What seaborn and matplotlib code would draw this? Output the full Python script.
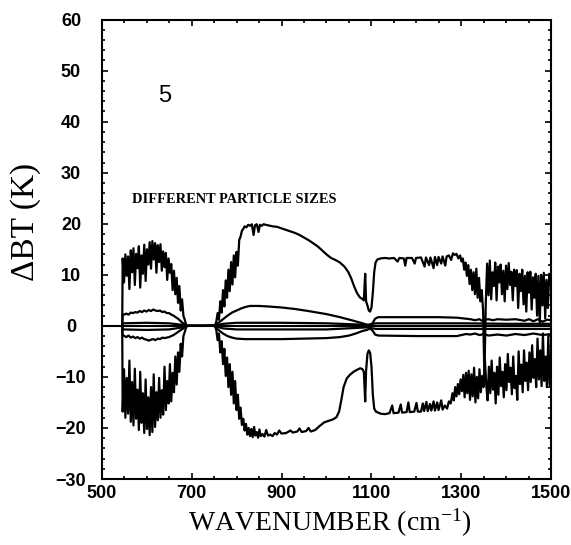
import numpy as np
import pandas as pd
import matplotlib
matplotlib.use("Agg")
import matplotlib.pyplot as plt
import seaborn as sns
from matplotlib.ticker import MultipleLocator

# ---------------------------------------------------------------------------
# Brightness-temperature differences (K) for several particle sizes
# ---------------------------------------------------------------------------

# largest positive response
wn_pos_large = [546, 547, 550, 553, 556, 559, 562, 565, 568, 571, 574, 577, 580, 583, 586, 589,
                592, 595, 598, 601, 604, 607, 610, 613, 616, 619, 622, 625, 628, 631, 634, 637,
                640, 643, 646, 649, 652, 655, 658, 661, 664, 667, 670, 673, 676, 679, 682, 685,
                688, 691, 720, 752, 755, 758, 761, 764, 767, 770, 773, 776, 779, 782, 785, 788,
                791, 794, 797, 800, 803, 806, 809, 812, 815, 818, 822, 826, 830, 834, 838, 841,
                845, 849, 852, 856, 860, 870, 880, 890, 900, 910, 920, 930, 940, 950, 960, 970,
                980, 990, 1000, 1010, 1020, 1030, 1040, 1048, 1055, 1062, 1068, 1074, 1079, 1083,
                1086, 1088, 1091, 1094, 1097, 1100, 1103, 1106, 1109, 1113, 1120, 1130, 1140,
                1150, 1158, 1162, 1172, 1175, 1178, 1190, 1196, 1199, 1210, 1218, 1221, 1228,
                1231, 1238, 1241, 1246, 1249, 1255, 1258, 1264, 1267, 1272, 1277, 1281, 1285,
                1289, 1293, 1297, 1300, 1303, 1306, 1309, 1312, 1315, 1318, 1321, 1324, 1327,
                1330, 1333, 1336, 1339, 1342, 1345, 1348, 1351, 1354, 1357, 1360, 1363, 1366,
                1369, 1372, 1375, 1378, 1381, 1384, 1387, 1390, 1393, 1396, 1399, 1402, 1405,
                1408, 1411, 1414, 1417, 1420, 1423, 1426, 1429, 1432, 1435, 1438, 1441, 1444,
                1447, 1450, 1453, 1456, 1459, 1462, 1465, 1468, 1471, 1474, 1477, 1480, 1483,
                1486, 1489, 1492, 1495, 1498, 1500]
dbt_pos_large = [0, 13.2, 8.5, 14.0, 9.8, 13.6, 7.2, 14.8, 10.5, 15.2, 8.0, 14.1, 11.3, 15.6, 7.5, 13.8,
                 10.2, 15.9, 8.8, 15.0, 12.0, 16.4, 11.2, 16.6, 13.0, 16.2, 10.4, 15.8, 12.5, 16.0, 10.8, 14.6,
                 11.5, 14.3, 9.0, 13.2, 10.4, 12.1, 7.0, 10.8, 6.2, 9.4, 4.5, 7.8, 3.0, 5.2, 2.0, 1.2,
                 0.2, 0, 0, 0.1, 0.8, 2.5, 1.2, 4.8, 2.6, 7.0, 3.8, 8.9, 5.5, 11.0, 6.8, 12.5,
                 8.1, 13.8, 9.5, 14.5, 11.8, 16.8, 17.5, 18.6, 19.0, 19.5, 19.3, 19.8, 19.6, 19.9, 17.8, 19.7,
                 19.9, 18.4, 19.8, 19.6, 19.9, 19.7, 19.5, 19.4, 19.1, 18.8, 18.5, 18.2, 17.8, 17.3, 16.8, 16.2,
                 15.6, 14.8, 14.0, 13.3, 12.9, 12.4, 11.6, 10.6, 9.3, 7.6, 6.4, 5.6, 5.3, 5.0,
                 10.2, 4.8, 4.0, 3.0, 2.8, 3.6, 6.5, 10.5, 12.4, 13.0, 13.2, 13.3, 13.2,
                 13.3, 12.6, 13.3, 13.2, 11.8, 13.3, 13.3, 12.2, 13.3, 13.4, 11.6, 13.4, 11.9,
                 13.4, 11.3, 13.5, 11.9, 13.5, 12.2, 13.6, 11.8, 13.6, 13.8, 12.9, 14.2, 13.9,
                 14.1, 13.2, 13.8, 12.6, 13.2, 11.0, 12.4, 9.8, 11.9, 8.2, 11.0, 7.0, 10.5,
                 6.2, 11.2, 5.5, 9.4, 4.8, 7.0, 3.0, -10.0, 4.5, 12.2, 6.0, 12.8, 5.2,
                 10.5, 7.8, 12.4, 5.0, 11.6, 8.5, 12.0, 6.2, 10.8, 4.8, 11.8, 7.2, 12.3,
                 8.0, 10.6, 5.0, 11.0, 7.8, 10.9, 3.5, 10.2, 6.8, 11.0, 4.2, 9.8, 2.8,
                 10.5, 6.5, 10.6, 3.2, 9.5, 5.5, 10.2, 2.0, 9.8, 0.5, 10.0, 4.0, 10.4,
                 1.5, 9.0, 3.5, 10.2, 9.5, 10.0]

# largest negative response
wn_neg_large = [546, 547, 550, 553, 556, 559, 562, 565, 568, 571, 574, 577, 580, 583, 586, 589,
                592, 595, 598, 601, 604, 607, 610, 613, 616, 619, 622, 625, 628, 631, 634, 637,
                640, 643, 646, 649, 652, 655, 658, 661, 664, 667, 670, 673, 676, 679, 682, 685,
                688, 691, 720, 752, 755, 758, 761, 764, 767, 770, 773, 776, 779, 782, 785, 788,
                791, 794, 797, 800, 803, 806, 809, 812, 815, 818, 821, 824, 827, 830, 833, 836,
                839, 842, 845, 848, 851, 854, 858, 862, 866, 870, 875, 880, 885, 890, 895, 900,
                910, 920, 925, 935, 940, 945, 955, 960, 965, 975, 985, 995, 1005, 1015, 1022,
                1028, 1033, 1038, 1045, 1052, 1060, 1068, 1075, 1080, 1083, 1086, 1088, 1091,
                1094, 1097, 1100, 1103, 1106, 1110, 1120, 1130, 1140, 1146, 1149, 1160, 1165,
                1168, 1178, 1182, 1185, 1195, 1200, 1203, 1210, 1214, 1217, 1222, 1225, 1230,
                1233, 1238, 1241, 1246, 1249, 1255, 1258, 1263, 1268, 1272, 1276, 1280, 1283,
                1286, 1289, 1292, 1295, 1298, 1301, 1304, 1307, 1310, 1313, 1316, 1319, 1322,
                1325, 1328, 1331, 1334, 1337, 1340, 1343, 1346, 1349, 1352, 1355, 1358, 1361,
                1364, 1367, 1370, 1373, 1376, 1379, 1382, 1385, 1388, 1391, 1394, 1397, 1400,
                1403, 1406, 1409, 1412, 1415, 1418, 1421, 1424, 1427, 1430, 1433, 1436, 1439,
                1442, 1445, 1448, 1451, 1454, 1457, 1460, 1463, 1466, 1469, 1472, 1475, 1478,
                1481, 1484, 1487, 1490, 1493, 1496, 1500]
dbt_neg_large = [0, -16.8, -8.5, -18.0, -10.2, -17.2, -6.8, -18.8, -11.0, -19.5, -8.4, -18.2, -12.5, -20.4, -9.0, -19.0,
                 -13.2, -21.0, -10.5, -20.2, -14.0, -21.4, -12.0, -20.8, -9.5, -19.8, -13.0, -18.5, -10.2, -18.0, -12.6, -17.4,
                 -8.0, -16.5, -10.8, -15.2, -7.5, -14.8, -9.2, -13.0, -6.0, -11.5, -5.2, -9.0, -3.5, -6.0, -2.0, -1.2,
                 -0.3, 0, 0, 0, -0.8, -2.8, -1.5, -5.2, -3.0, -7.5, -4.5, -9.8, -6.2, -12.0, -7.5, -13.5,
                 -9.0, -15.2, -10.8, -16.5, -13.5, -18.2, -16.0, -19.4, -18.2, -20.5, -19.2, -21.3, -20.0, -21.6, -20.2, -21.8,
                 -19.8, -21.5, -20.8, -21.9, -20.3, -21.6, -21.2, -21.7, -20.4, -21.5, -21.3, -21.6, -21.0, -21.3, -20.5, -21.1,
                 -21.0, -20.5, -20.9, -20.7, -20.1, -20.8, -20.6, -20.0, -20.7, -20.4, -19.6, -18.9, -18.6, -18.3, -17.9,
                 -16.8, -14.5, -12.0, -10.3, -9.6, -9.0, -8.6, -8.3, -8.5, -9.0, -14.8, -8.8, -5.5,
                 -4.8, -5.3, -8.0, -13.5, -16.2, -16.8, -17.2, -17.3, -17.1, -15.6, -17.1, -17.0, -15.4,
                 -17.0, -16.9, -15.0, -16.9, -16.8, -15.1, -16.8, -16.8, -15.2, -16.7, -14.9, -16.7, -15.3,
                 -16.6, -14.8, -16.6, -15.0, -16.5, -14.6, -16.4, -15.6, -16.2, -14.8, -15.2, -13.2, -14.6,
                 -12.0, -13.8, -11.4, -13.4, -10.5, -12.8, -9.6, -14.0, -9.2, -13.2, -8.8, -14.5, -9.5,
                 -13.8, -8.2, -15.0, -10.0, -14.2, -8.5, -13.0, -9.8, -12.0, -6.5, -11.5, -14.6, -8.0,
                 -13.2, -6.8, -12.5, -9.2, -15.2, -8.0, -13.5, -6.2, -11.8, -9.0, -14.0, -7.5, -12.6,
                 -5.5, -11.0, -8.2, -13.4, -6.0, -12.2, -9.8, -14.5, -5.0, -11.4, -7.6, -13.0, -4.8,
                 -10.8, -7.2, -12.6, -5.2, -11.0, -3.8, -10.2, -6.5, -12.0, -2.5, -10.5, -4.8, -11.8,
                 -1.5, -10.8, -6.0, -12.0, -2.0, -11.5, -12.0]

# medium positive response
wn_pos_mid = [546, 547, 555, 560, 565, 570, 575, 580, 585, 590, 595, 600, 605, 610, 615, 620, 625,
              630, 635, 640, 645, 650, 655, 660, 665, 670, 675, 680, 685, 690, 750, 760, 770, 780,
              790, 800, 810, 820, 830, 850, 870, 900, 930, 960, 1000, 1030, 1060, 1080, 1090, 1097,
              1103, 1108, 1115, 1150, 1200, 1250, 1290, 1300, 1310, 1320, 1330, 1340, 1345, 1350,
              1360, 1370, 1380, 1400, 1420, 1440, 1450, 1460, 1470, 1480, 1490, 1500]
dbt_pos_mid = [0, 2.1, 2.4, 2.2, 2.6, 2.5, 2.7, 2.6, 2.9, 2.7, 3.0, 2.8, 3.1, 2.9, 3.2, 3.0, 2.9,
               3.0, 2.7, 2.8, 2.5, 2.5, 2.2, 2.0, 1.7, 1.4, 1.0, 0.6, 0.3, 0.0, 0.0, 0.6, 1.3, 2.0,
               2.6, 3.0, 3.4, 3.7, 3.9, 3.9, 3.8, 3.6, 3.3, 2.9, 2.3, 1.7, 1.0, 0.5, 0.2, 0.1,
               0.6, 1.4, 1.7, 1.7, 1.7, 1.7, 1.6, 1.5, 1.4, 1.3, 1.1, 1.3, 1.0, 1.2,
               1.3, 1.1, 1.3, 1.2, 1.3, 1.0, 1.3, 0.9, 1.3, 0.8, 1.2, 1.1]

# medium negative response
wn_neg_mid = [546, 547, 555, 560, 565, 570, 575, 580, 585, 590, 595, 600, 605, 610, 615, 620, 625,
              630, 635, 640, 650, 660, 670, 680, 690, 750, 760, 770, 780, 790, 800, 820, 850, 900,
              950, 1000, 1030, 1050, 1065, 1080, 1090, 1097, 1103, 1108, 1115, 1200, 1290, 1300,
              1310, 1320, 1330, 1340, 1350, 1360, 1380, 1400, 1420, 1440, 1460, 1480, 1500]
dbt_neg_mid = [0, -1.8, -2.2, -1.9, -2.3, -2.1, -2.4, -2.2, -2.5, -2.3, -2.6, -2.7, -2.9, -2.7, -2.6, -2.8, -2.5,
               -2.6, -2.3, -2.4, -2.2, -1.8, -1.2, -0.6, 0, 0, -0.8, -1.5, -2.0, -2.3, -2.5, -2.6, -2.6, -2.6,
               -2.5, -2.4, -2.2, -1.9, -1.5, -1.0, -0.8, -0.5, -1.0, -1.7, -1.9, -2.0, -2.0, -1.8,
               -1.6, -1.7, -1.5, -1.8, -1.6, -1.9, -1.7, -1.9, -1.6, -1.8, -1.5, -1.8, -1.6]

# smallest responses, close to zero
wn_pos_small = [546, 547, 600, 650, 680, 690, 750, 770, 800, 900, 1000, 1090, 1110, 1300, 1400, 1500]
dbt_pos_small = [0, 0.5, 0.6, 0.5, 0.2, 0, 0, 0.4, 0.6, 0.6, 0.5, 0.2, 0.5, 0.5, 0.4, 0.4]

wn_neg_small = [546, 547, 600, 650, 680, 690, 750, 770, 800, 900, 1000, 1090, 1110, 1300, 1400, 1500]
dbt_neg_small = [0, -0.7, -0.8, -0.7, -0.3, 0, 0, -0.5, -0.7, -0.7, -0.7, -0.3, -0.6, -0.6, -0.6, -0.6]

x_ticks = [500, 700, 900, 1100, 1300, 1500]
y_ticks = [60, 50, 40, 30, 20, 10, 0, -10, -20, -30]

series = {
    "pos_large": (wn_pos_large, dbt_pos_large),
    "neg_large": (wn_neg_large, dbt_neg_large),
    "pos_mid": (wn_pos_mid, dbt_pos_mid),
    "neg_mid": (wn_neg_mid, dbt_neg_mid),
    "pos_small": (wn_pos_small, dbt_pos_small),
    "neg_small": (wn_neg_small, dbt_neg_small),
}
frames = []
for name, (w, d) in series.items():
    frames.append(pd.DataFrame({"wn": w, "dbt": d, "curve": name}))
df = pd.concat(frames, ignore_index=True)

# ---------------------------------------------------------------------------
sns.set_style("ticks")
plt.rcParams["font.family"] = ["Liberation Sans", "DejaVu Sans"]
plt.rcParams["mathtext.fontset"] = "custom"
plt.rcParams["mathtext.rm"] = "Liberation Serif"
plt.rcParams["mathtext.it"] = "Liberation Serif:italic"
plt.rcParams["axes.unicode_minus"] = True
for key in ("text.color", "axes.labelcolor", "xtick.color", "ytick.color",
            "xtick.labelcolor", "ytick.labelcolor", "axes.edgecolor"):
    plt.rcParams[key] = "black"

fig = plt.figure(figsize=(5.71, 5.45), dpi=100)
ax = fig.add_axes([0.1778, 0.1211, 0.788, 0.843])

ax.axhline(0, color="black", lw=1.5, zorder=1)
sns.lineplot(data=df, x="wn", y="dbt", units="curve", estimator=None, sort=False,
             color="black", lw=1.6, ax=ax, legend=False)

ax.set_xlim(500, 1500)
ax.set_ylim(-30, 60)

ax.set_xticks(x_ticks, [str(t) for t in x_ticks])
ax.set_yticks(y_ticks, [f"{t}".replace("-", "\u2212") for t in y_ticks], ha="center")
ax.xaxis.set_minor_locator(MultipleLocator(50))
ax.yaxis.set_minor_locator(MultipleLocator(2))

for s in ax.spines.values():
    s.set_linewidth(1.5)
    s.set_color("black")

ax.tick_params(which="both", direction="in", top=True, right=True, width=1.2, color="black")
ax.tick_params(which="major", length=4.5)
ax.tick_params(which="minor", length=2.2)
ax.tick_params(axis="x", which="major", pad=4, labelsize=13, labelcolor="black")
ax.tick_params(axis="y", which="major", pad=22, labelsize=13, labelcolor="black")
for lab in ax.get_xticklabels() + ax.get_yticklabels():
    lab.set_fontweight("bold")

ax.set_xlabel("WAVENUMBER (cm$^{-1}$)", family="Liberation Serif", fontsize=20, color="black")
ax.set_ylabel("\u0394BT (K)", family="Liberation Serif", fontsize=24, color="black")
ax.xaxis.set_label_coords(0.508, -0.061)
ax.yaxis.set_label_coords(-0.134, 0.559)

ax.text(640, 45, "5", fontsize=17, ha="center", va="center", color="black")
ax.text(568, 24.8, "DIFFERENT PARTICLE SIZES", family="Liberation Serif",
        fontweight="bold", fontsize=10.4, ha="left", va="center", color="black")

fig.savefig("out.png", dpi=100, facecolor="white")
